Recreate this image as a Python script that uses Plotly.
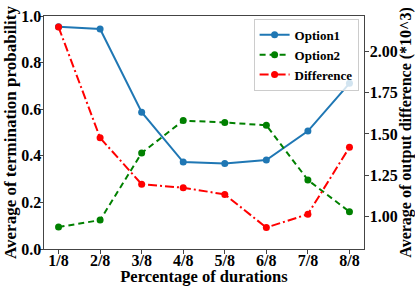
import plotly.graph_objects as go

categories = ["1/8", "2/8", "3/8", "4/8", "5/8", "6/8", "7/8", "8/8"]
option1 = [0.954, 0.944, 0.587, 0.373, 0.367, 0.382, 0.506, 0.711]
option2 = [0.094, 0.124, 0.412, 0.551, 0.543, 0.531, 0.296, 0.160]
difference = [2.148, 1.476, 1.195, 1.174, 1.133, 0.932, 1.013, 1.419]

left_ticks = [0.0, 0.2, 0.4, 0.6, 0.8, 1.0]
right_ticks = [1.00, 1.25, 1.50, 1.75, 2.00]

FONT = "Liberation Serif"
AX = "#444444"

fig = go.Figure()
fig.add_trace(go.Scatter(
    x=categories, y=option1, name="Option1", mode="lines+markers",
    line=dict(color="#1f77b4", width=2), marker=dict(size=7, color="#1f77b4"),
))
fig.add_trace(go.Scatter(
    x=categories, y=option2, name="Option2", mode="lines+markers",
    line=dict(color="#008000", width=2, dash="6px,4px"), marker=dict(size=7, color="#008000"),
))
fig.add_trace(go.Scatter(
    x=categories, y=difference, name="Difference", mode="lines+markers", yaxis="y2",
    line=dict(color="#ff0000", width=2, dash="9px,3px,2px,3px"), marker=dict(size=7, color="#ff0000"),
))

fig.update_layout(
    width=415, height=286,
    margin=dict(l=44, r=51, t=16, b=37, autoexpand=False),
    paper_bgcolor="white", plot_bgcolor="white",
    font=dict(family=FONT, color="black"),
    showlegend=True,
    legend=dict(
        x=0.655, y=0.988, xanchor="left", yanchor="top",
        bgcolor="rgba(255,255,255,0.8)", bordercolor="#cccccc", borderwidth=1,
        font=dict(family=FONT, size=13, color="black", weight="bold"),
        tracegroupgap=0, itemwidth=30,
    ),
    xaxis=dict(
        type="category", range=[-0.35, 7.35], automargin=False,
        showgrid=False, zeroline=False,
        showline=True, linecolor=AX, linewidth=1, mirror=True,
        ticks="outside", ticklen=3.5, tickcolor=AX, ticklabelstandoff=-7,
        tickfont=dict(family=FONT, size=16, color="black", weight="bold"),
        title=dict(text="Percentage of durations", standoff=2,
                   font=dict(family=FONT, size=16.5, color="black", weight="bold")),
    ),
    yaxis=dict(
        range=[0, 1], tickvals=left_ticks, tickformat=".1f", automargin=False,
        showgrid=False, zeroline=False,
        showline=True, linecolor=AX, linewidth=1, mirror=True,
        ticks="outside", ticklen=3.5, tickcolor=AX, ticklabelstandoff=-5,
        tickfont=dict(family=FONT, size=16, color="black", weight="bold"),
        title=dict(text="Average of termination probability", standoff=0,
                   font=dict(family=FONT, size=17, color="black", weight="bold")),
    ),
    yaxis2=dict(
        overlaying="y", side="right", range=[0.802, 2.215], tickvals=right_ticks, tickformat=".2f",
        automargin=False,
        showgrid=False, zeroline=False,
        showline=True, linecolor=AX, linewidth=1,
        ticks="outside", ticklen=3.5, tickcolor=AX, ticklabelstandoff=-2,
        tickfont=dict(family=FONT, size=16, color="black", weight="bold"),
        title=dict(text="Average of output difference (*10^3)", standoff=0,
                   font=dict(family=FONT, size=16, color="black", weight="bold")),
    ),
)

fig.write_html(
    "out.html",
    config={"displayModeBar": False},
    post_script="document.body.style.margin='0';document.body.style.overflow='hidden';",
)
